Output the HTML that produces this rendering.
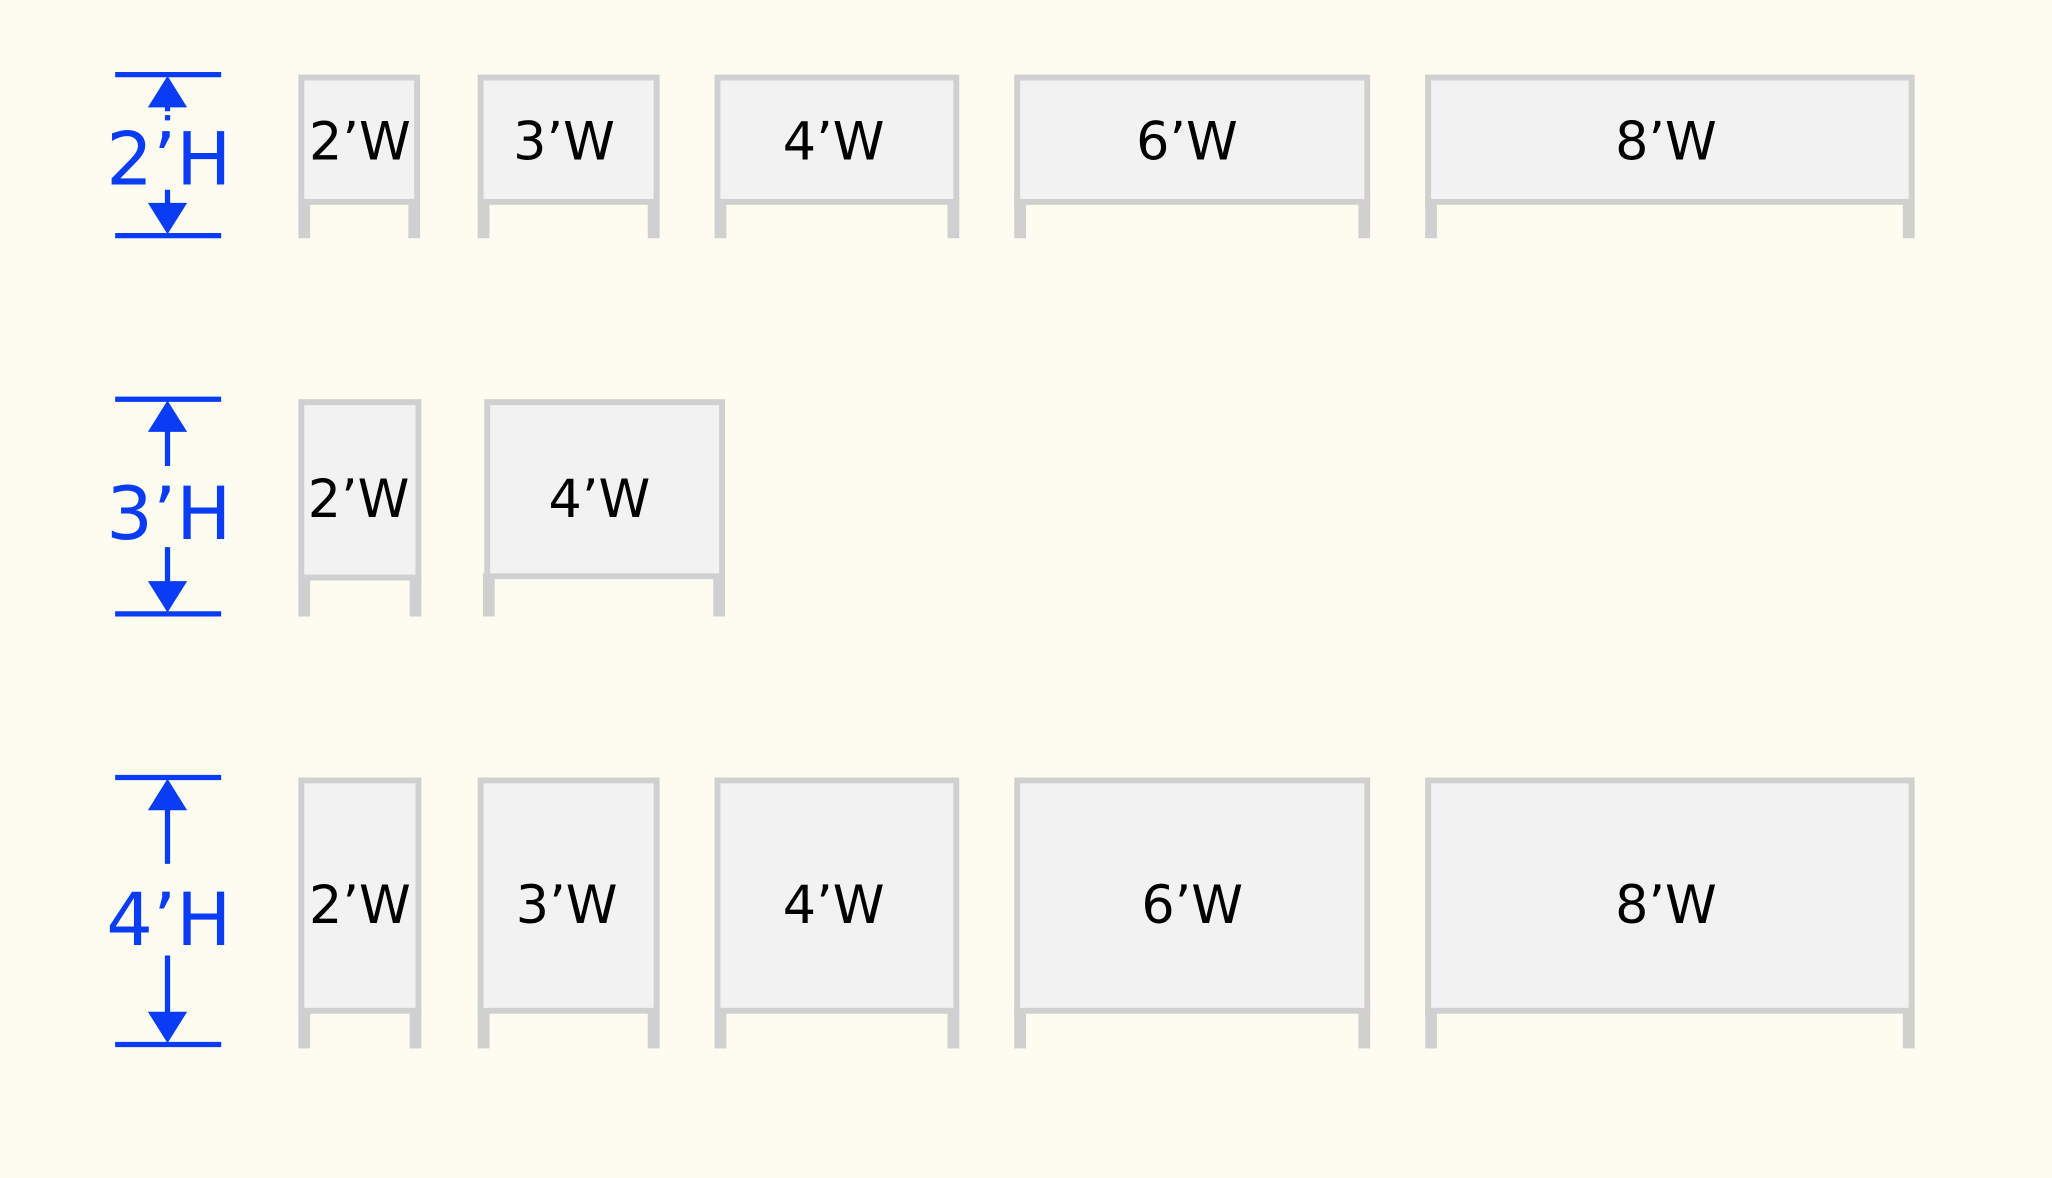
<!DOCTYPE html>
<html><head><meta charset="utf-8"><style>
html,body{margin:0;padding:0;background:#fcfcf0;}
svg{display:block}
text{font-family:"DejaVu Sans","Liberation Sans",sans-serif;}
</style></head><body>
<svg width="2052" height="1178" viewBox="0 0 1568 900" preserveAspectRatio="none" xmlns="http://www.w3.org/2000/svg">
<rect width="1568" height="900" fill="#fcfcf0"/>
<g fill="#d0d0d0">
<!-- row1 legs -->
<rect x="228" y="150" width="9" height="32"/><rect x="312" y="150" width="9" height="32"/>
<rect x="365" y="150" width="9" height="32"/><rect x="495" y="150" width="9" height="32"/>
<rect x="546" y="150" width="9" height="32"/><rect x="724" y="150" width="9" height="32"/>
<rect x="775" y="150" width="9" height="32"/><rect x="1038" y="150" width="9" height="32"/>
<rect x="1089" y="150" width="9" height="32"/><rect x="1454" y="150" width="9" height="32"/>
<!-- row2 legs -->
<rect x="228" y="438" width="9" height="33"/><rect x="313" y="438" width="9" height="33"/>
<rect x="369" y="438" width="9" height="33"/><rect x="545" y="438" width="9" height="33"/>
<!-- row3 legs -->
<rect x="228" y="768" width="9" height="33"/><rect x="313" y="768" width="9" height="33"/>
<rect x="365" y="768" width="9" height="33"/><rect x="495" y="768" width="9" height="33"/>
<rect x="546" y="768" width="9" height="33"/><rect x="724" y="768" width="9" height="33"/>
<rect x="775" y="768" width="9" height="33"/><rect x="1038" y="768" width="9" height="33"/>
<rect x="1089" y="768" width="9" height="33"/><rect x="1454" y="768" width="9" height="33"/>
</g>
<g fill="#f2f2f2" stroke="#d0d0d0" stroke-width="4.5">
<rect x="230.25" y="59.25" width="88.5" height="95"/>
<rect x="367.25" y="59.25" width="134.5" height="95"/>
<rect x="548.25" y="59.25" width="182.5" height="95"/>
<rect x="777.25" y="59.25" width="267.5" height="95"/>
<rect x="1091.25" y="59.25" width="369.5" height="95"/>

<rect x="230.25" y="307.25" width="89.5" height="134"/>
<rect x="372.25" y="307.25" width="179.5" height="133"/>

<rect x="230.25" y="596.25" width="89.5" height="176"/>
<rect x="367.25" y="596.25" width="134.5" height="176"/>
<rect x="548.25" y="596.25" width="182.5" height="176"/>
<rect x="777.25" y="596.25" width="267.5" height="176"/>
<rect x="1091.25" y="596.25" width="369.5" height="176"/>
</g>
<g font-size="40" fill="#000" text-anchor="middle">
<text x="275" y="122">2’W</text>
<text x="431" y="122">3’W</text>
<text x="637" y="122">4’W</text>
<text x="907" y="122">6’W</text>
<text x="1273" y="122">8’W</text>
<text x="274" y="395">2’W</text>
<text x="458" y="395">4’W</text>
<text x="275" y="705">2’W</text>
<text x="433" y="705">3’W</text>
<text x="637" y="705">4’W</text>
<text x="911" y="705">6’W</text>
<text x="1273" y="705">8’W</text>
</g>
<g stroke="#0a3cf5" stroke-width="4" fill="none">
<line x1="88" y1="57" x2="169" y2="57"/><line x1="88" y1="180" x2="169" y2="180"/>
<line x1="128" y1="80" x2="128" y2="92" stroke-dasharray="5,3"/><line x1="128" y1="145" x2="128" y2="158"/>
<line x1="88" y1="305" x2="169" y2="305"/><line x1="88" y1="469" x2="169" y2="469"/>
<line x1="128" y1="325" x2="128" y2="356"/><line x1="128" y1="418" x2="128" y2="450"/>
<line x1="88" y1="594" x2="169" y2="594"/><line x1="88" y1="798" x2="169" y2="798"/>
<line x1="128" y1="615" x2="128" y2="660"/><line x1="128" y1="730" x2="128" y2="780"/>
</g>
<g fill="#0a3cf5">
<polygon points="128,58 113,82 143,82"/><polygon points="128,179 113,155 143,155"/>
<polygon points="128,306 113,330 143,330"/><polygon points="128,468 113,444 143,444"/>
<polygon points="128,595 113,619 143,619"/><polygon points="128,797 113,773 143,773"/>
</g>
<g font-size="56" fill="#0a3cf5" text-anchor="middle">
<text x="129" y="141">2’H</text>
<text x="129" y="412">3’H</text>
<text x="129" y="722">4’H</text>
</g>
</svg>
</body></html>
